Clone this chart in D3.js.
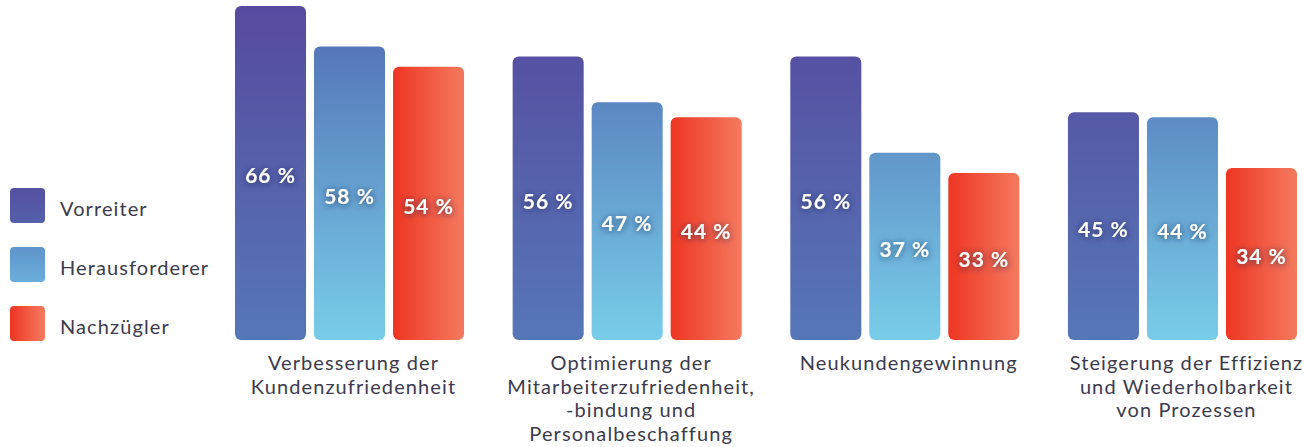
<!DOCTYPE html>
<html>
<head>
<meta charset="utf-8">
<script src="https://cdn.jsdelivr.net/npm/d3@7"></script>
<style>
  body { margin: 0; background: #fff; }
  svg { display: block; font-family: Lato, "Open Sans", sans-serif; }
</style>
</head>
<body>
<svg id="chart" width="1305" height="447"></svg>
<script>
const categories = [
  ["Verbesserung der", "Kundenzufriedenheit"],
  ["Optimierung der", "Mitarbeiterzufriedenheit,", "-bindung und", "Personalbeschaffung"],
  ["Neukundengewinnung"],
  ["Steigerung der Effizienz", "und Wiederholbarkeit", "von Prozessen"]
];
const seriesNames = ["Vorreiter", "Herausforderer", "Nachzügler"];
const vorreiter = [66, 56, 56, 45];
const herausforderer = [58, 47, 37, 44];
const nachzuegler = [54, 44, 33, 34];
const seriesValues = [vorreiter, herausforderer, nachzuegler];

const svg = d3.select("#chart");
const baseY = 340;

const x0 = d3.scaleBand().domain(d3.range(categories.length)).range([235, 1297]).paddingInner(0.175).paddingOuter(0);
const x1 = d3.scaleBand().domain(d3.range(seriesNames.length)).range([0, x0.bandwidth()]).paddingInner(0.101).paddingOuter(0);
const y = d3.scaleLinear().domain([0, 66]).range([baseY, 6]);

const defs = svg.append("defs");
const g0 = defs.append("linearGradient").attr("id", "grad0").attr("gradientUnits", "userSpaceOnUse")
  .attr("x1", 0).attr("x2", 0).attr("y1", y(66)).attr("y2", baseY);
g0.append("stop").attr("offset", "0%").attr("stop-color", "#564a9f");
g0.append("stop").attr("offset", "100%").attr("stop-color", "#5677b7");
const g1 = defs.append("linearGradient").attr("id", "grad1").attr("gradientUnits", "userSpaceOnUse")
  .attr("x1", 0).attr("x2", 0).attr("y1", y(60)).attr("y2", baseY);
g1.append("stop").attr("offset", "0%").attr("stop-color", "#5474b7");
g1.append("stop").attr("offset", "100%").attr("stop-color", "#78cde9");
const g2 = defs.append("linearGradient").attr("id", "grad2")
  .attr("x1", "0%").attr("x2", "100%").attr("y1", "0%").attr("y2", "0%");
g2.append("stop").attr("offset", "0%").attr("stop-color", "#ee3522");
g2.append("stop").attr("offset", "100%").attr("stop-color", "#f47a5f");
const lg0 = defs.append("linearGradient").attr("id", "lgrad0").attr("x1", 0).attr("x2", 0).attr("y1", 0).attr("y2", 1);
lg0.append("stop").attr("offset", "0%").attr("stop-color", "#5550a2");
lg0.append("stop").attr("offset", "100%").attr("stop-color", "#5560aa");
const lg1 = defs.append("linearGradient").attr("id", "lgrad1").attr("x1", 0).attr("x2", 0).attr("y1", 0).attr("y2", 1);
lg1.append("stop").attr("offset", "0%").attr("stop-color", "#5f94cc");
lg1.append("stop").attr("offset", "100%").attr("stop-color", "#6aaedb");

const shadow = defs.append("filter").attr("id", "glow").attr("x", "-30%").attr("y", "-60%").attr("width", "160%").attr("height", "220%");
shadow.append("feDropShadow").attr("dx", 0).attr("dy", 1).attr("stdDeviation", 3.5)
  .attr("flood-color", "#1d2150").attr("flood-opacity", 0.75);

const fills = ["url(#grad0)", "url(#grad1)", "url(#grad2)"];
const legendFills = ["url(#lgrad0)", "url(#lgrad1)", "url(#grad2)"];

const rows = [];
categories.forEach((c, ci) => seriesValues.forEach((vals, si) => rows.push({ ci, si, v: vals[ci] })));

const bars = svg.append("g");
bars.selectAll("rect")
  .data(rows)
  .join("rect")
  .attr("x", d => x0(d.ci) + x1(d.si))
  .attr("y", d => y(d.v))
  .attr("width", x1.bandwidth())
  .attr("height", d => baseY - y(d.v))
  .attr("rx", 6)
  .attr("fill", d => fills[d.si]);

bars.selectAll("text")
  .data(rows)
  .join("text")
  .attr("x", d => x0(d.ci) + x1(d.si) + x1.bandwidth() / 2)
  .attr("y", d => (y(d.v) + baseY) / 2 + 5)
  .attr("text-anchor", "middle")
  .attr("dominant-baseline", "middle")
  .attr("fill", "#fff")
  .attr("font-size", 21)
  .attr("font-weight", 700)
  .attr("letter-spacing", 1)
  .attr("filter", "url(#glow)")
  .text(d => `${d.v} %`);

// category labels
const labels = svg.append("g");
categories.forEach((lines, ci) => {
  const cx = x0(ci) + x0.bandwidth() / 2 + 4;
  const t = labels.append("text")
    .attr("x", cx)
    .attr("y", 370)
    .attr("text-anchor", "middle")
    .attr("font-size", 20)
    .attr("letter-spacing", 1.1)
    .attr("fill", "#3c3b4d");
  lines.forEach((line, i) => {
    t.append("tspan").attr("x", cx).attr("dy", i === 0 ? 0 : 23.5).text(line);
  });
});

// legend
const legendY = d3.scalePoint().domain(seriesNames).range([205.5, 323.5]);
const legend = svg.append("g").selectAll("g").data(seriesNames).join("g")
  .attr("transform", d => `translate(10, ${legendY(d)})`);
legend.append("rect")
  .attr("x", 0).attr("y", -17.5)
  .attr("width", 35).attr("height", 35)
  .attr("rx", 4)
  .attr("fill", (d, i) => legendFills[i]);
legend.append("text")
  .attr("x", 50).attr("y", 5)
  .attr("dominant-baseline", "middle")
  .attr("font-size", 20)
  .attr("letter-spacing", 1.1)
  .attr("fill", "#3c3b4d")
  .text(d => d);
</script>
</body>
</html>
